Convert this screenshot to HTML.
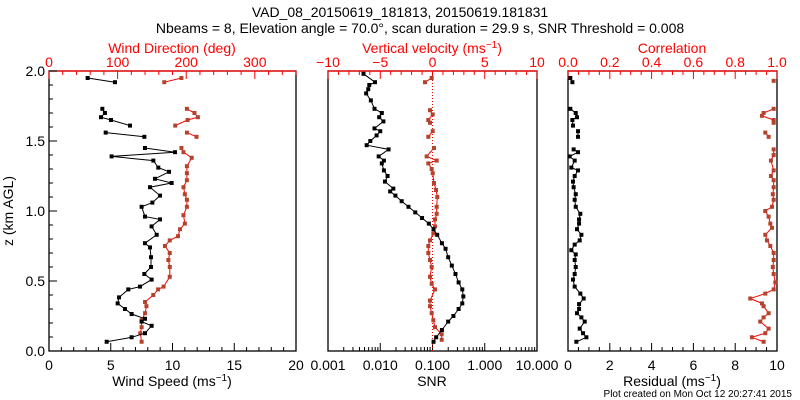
<!DOCTYPE html>
<html><head><meta charset="utf-8">
<style>
html,body{margin:0;padding:0;background:#fff;}
svg{display:block;font-family:"Liberation Sans",sans-serif;}
</style></head>
<body>
<svg id="chart" width="800" height="400" viewBox="0 0 800 400" xmlns="http://www.w3.org/2000/svg">
<rect x="0" y="0" width="800" height="400" fill="#fff"/>
<text x="400" y="17" text-anchor="middle" font-size="14">VAD_08_20150619_181813, 20150619.181831</text>
<text x="420" y="33" text-anchor="middle" font-size="14">Nbeams = 8, Elevation angle = 70.0°, scan duration = 29.9 s, SNR Threshold = 0.008</text>
<text x="172" y="53" text-anchor="middle" font-size="14" fill="#f00">Wind Direction (deg)</text>
<text x="432" y="53" text-anchor="middle" font-size="14" fill="#f00">Vertical velocity (ms<tspan dy="-5" font-size="10">−1</tspan><tspan dy="5">)</tspan></text>
<text x="672" y="53" text-anchor="middle" font-size="14" fill="#f00">Correlation</text>
<text x="172" y="386" text-anchor="middle" font-size="14">Wind Speed (ms<tspan dy="-5" font-size="10">−1</tspan><tspan dy="5">)</tspan></text>
<text x="432" y="386" text-anchor="middle" font-size="14">SNR</text>
<text x="672" y="386" text-anchor="middle" font-size="14">Residual (ms<tspan dy="-5" font-size="10">−1</tspan><tspan dy="5">)</tspan></text>
<text x="792" y="397" text-anchor="end" font-size="10">Plot created on Mon Oct 12 20:27:41 2015</text>
<text transform="translate(13,211) rotate(-90)" text-anchor="middle" font-size="14">z (km AGL)</text>
</svg>
<script>
// ---- data ----
const yTicks = [0, 0.5, 1.0, 1.5, 2.0];
const yTickLabels = ["0.0", "0.5", "1.0", "1.5", "2.0"];
const speedTicks = [0, 5, 10, 15, 20];
const dirTicks = [0, 100, 200, 300];
const snrTicks = [0.001, 0.01, 0.1, 1, 10];
const snrTickLabels = ["0.001", "0.010", "0.100", "1.000", "10.000"];
const wTicks = [-10, -5, 0, 5, 10];
const resTicks = [0, 2, 4, 6, 8, 10];
const corrTicks = [0, 0.2, 0.4, 0.6, 0.8, 1.0];
const corrTickLabels = ["0.0", "0.2", "0.4", "0.6", "0.8", "1.0"];

const speedZ = [0.066,0.098,0.127,0.18,0.21,0.23,0.264,0.30,0.34,0.383,0.44,0.46,0.51,0.55,0.60,0.67,0.74,0.77,0.83,0.89,0.94,0.96,1.03,1.06,1.11,1.17,1.20,1.23,1.28,1.31,1.36,1.39,1.42,1.45,null,1.53,1.56,null,1.61,1.65,1.67,1.70,1.73,null,1.92,1.95];
const speedVals = [4.67,6.69,7.77,8.31,7.50,7.77,6.69,6.15,5.56,5.67,6.42,7.37,8.31,7.72,8.26,8.26,8.18,7.77,8.72,8.31,8.99,7.77,7.50,8.37,8.99,8.18,9.93,8.58,9.72,8.85,8.45,5.07,10.2,7.77,null,7.72,4.59,null,6.56,5.02,4.21,4.53,4.32,null,5.34,3.13];

const dirZ = [0.066,0.127,0.17,0.22,0.27,0.32,0.35,0.40,0.44,0.46,0.53,0.60,0.65,0.70,0.75,0.79,0.82,0.87,0.91,0.97,1.03,1.08,1.12,1.17,1.22,1.27,1.32,1.38,1.42,1.45,null,1.53,1.56,null,1.61,1.65,1.67,1.70,1.73,null,1.92,1.95];
const dirVals = [135,133,135,135,140,142,140,152,159,167,176,176,174,176,169,176,188,191,198,196,201,201,198,196,201,201,201,208,196,193,null,215,201,null,184,202,217,212,201,null,168,193];

const snrZ = [0.066,0.098,0.15,0.21,0.25,0.30,0.34,0.39,0.44,0.49,0.55,0.61,0.67,0.73,0.77,0.83,0.87,0.91,0.95,0.99,1.03,1.07,1.11,1.14,1.16,1.21,1.25,1.29,1.34,1.36,1.39,1.44,1.47,1.50,1.54,1.57,1.59,1.64,1.67,1.70,1.73,1.79,1.84,1.87,1.90,1.92,1.98];
const snrLog = [-0.98,-0.93,-0.82,-0.70,-0.60,-0.50,-0.43,-0.41,-0.43,-0.50,-0.56,-0.63,-0.70,-0.75,-0.82,-0.91,-0.98,-1.07,-1.20,-1.33,-1.46,-1.59,-1.71,-1.81,-1.75,-1.91,-1.86,-1.93,-1.97,-1.93,-2.03,-1.84,-2.26,-2.19,-2.07,-2.00,-2.11,-1.94,-2.02,-1.97,-2.11,-2.18,-2.27,-2.23,-2.21,-2.10,-2.32];

const wZ = [0.08,0.12,0.17,0.22,0.27,0.32,0.36,0.44,0.48,0.53,0.60,0.65,0.70,0.75,0.79,0.84,0.89,0.94,0.98,1.03,1.10,1.15,1.20,1.27,1.30,1.34,1.36,1.39,1.45,null,1.53,1.57,null,1.63,1.65,1.69,1.72,null,1.92,1.95];
const wVals = [0.88,0.88,0.24,0.08,-0.08,-0.24,-0.24,0.24,-0.08,-0.24,-0.08,-0.24,-0.40,-0.40,-0.24,0.08,0.24,0.24,0.40,0.40,0.46,0.34,0.14,0.02,-0.08,-0.40,0.40,-0.56,0.14,null,-0.40,0.02,null,-0.24,-0.40,0.02,-0.24,null,-0.72,-0.08];

const resZ = [0.066,0.098,0.127,0.16,0.21,0.24,0.27,0.30,0.335,0.375,0.41,0.46,0.51,0.55,0.60,0.65,0.69,0.72,0.76,0.79,0.83,0.87,0.91,0.94,0.98,1.03,1.08,1.12,1.17,1.21,1.25,1.29,1.31,1.36,1.39,1.42,1.44,null,1.53,1.57,null,1.61,1.65,1.67,1.70,1.73,null,1.92,1.95];
const resVals = [0.40,0.88,0.72,0.56,0.80,0.64,0.43,0.53,0.53,0.75,0.59,0.32,0.24,0.32,0.37,0.32,0.37,0.16,0.32,0.56,0.64,0.43,0.53,0.53,0.59,0.37,0.32,0.37,0.27,0.24,0.32,0.48,0.16,0.32,0.08,0.48,0.27,null,0.48,0.48,null,0.24,0.21,0.43,0.37,0.11,null,0.21,0.11];

const corrZ = [0.066,0.098,0.127,0.16,0.21,0.24,0.27,0.32,0.34,0.375,0.41,0.44,0.49,0.55,0.60,0.65,0.70,0.75,0.79,0.83,0.88,0.91,0.96,1.0,1.03,1.08,1.12,1.17,1.22,1.25,1.29,1.36,1.40,1.44,null,1.53,1.56,null,1.63,1.65,1.68,1.70,1.73,null,1.93];
const corrVals = [0.936,0.88,0.944,0.96,0.92,0.936,0.96,0.936,0.928,0.872,0.944,0.984,0.992,0.984,0.98,0.984,0.984,0.968,0.952,0.944,0.976,0.968,0.96,0.944,0.976,0.984,0.98,0.984,0.984,0.971,0.984,0.971,0.984,0.984,null,0.96,0.944,null,0.984,0.984,0.928,0.936,0.984,null,0.984];

// ---- layout ----
const NS = "http://www.w3.org/2000/svg";
const svg = document.getElementById("chart");
const Y0 = 351, Y1 = 71;
function yS(z){ return Y0 - (z/2.0)*(Y0-Y1); }
const P1 = {l:49, r:296}, P2 = {l:328, r:537}, P3 = {l:568, r:777};
function lin(p, a, b){ return v => p.l + (v-a)/(b-a)*(p.r-p.l); }
const xSpeed = lin(P1,0,20), xDir = lin(P1,0,360);
const xLogSnr = lin(P2,-3,1), xW = lin(P2,-10,10);
const xRes = lin(P3,0,10), xCorr = lin(P3,0,1);
const RED = "#f00", MRED = "#b5422c";

function mk(tag, attrs){
  const e = document.createElementNS(NS, tag);
  for (const k in attrs) e.setAttribute(k, attrs[k]);
  svg.appendChild(e);
  return e;
}

function drawPanel(p, key){
  const f = mk("rect", {x:p.l, y:Y1, width:p.r-p.l, height:Y0-Y1, fill:"none", stroke:"#000", "stroke-width":1.3});
  
  
  const t = mk("line", {x1:p.l, y1:Y1, x2:p.r, y2:Y1, stroke:RED, "stroke-width":1.3});
  
  
}
drawPanel(P1, "wind-panel");
drawPanel(P2, "snr-panel");
drawPanel(P3, "residual-panel");

function tick(x, y, len, color, name){
  const l = mk("line", {x1:x, y1:y, x2:x, y2:y+len, stroke:color, "stroke-width":1});
  
  
}
function label(x, y, txt, color, anchor, name){
  const t = mk("text", {x:x, y:y, "text-anchor":anchor, "font-size":14, fill:color});
  t.textContent = txt;
  
  
}

// y axis
for (let z = 0; z <= 2.0001; z += 0.1) {
  const y = yS(z);
  const major = Math.abs(z*2 - Math.round(z*2)) < 1e-6;
  const l = mk("line", {x1:P1.l, y1:y, x2:P1.l+(major?8:4), y2:y, stroke:"#000"});
  
  
}
yTicks.forEach((v,i)=>label(P1.l-4, yS(v)+5, yTickLabels[i], "#000", "end", "y-tick-label"));

// panel 1 axes
for (let v = 0; v <= 20; v += 1) tick(xSpeed(v), Y0, v%5===0?-8:-4, "#000", "speed-tick");
speedTicks.forEach(v=>label(xSpeed(v), 370, String(v), "#000", "middle", "speed-tick-label"));
for (let v = 0; v <= 360; v += 20) tick(xDir(v), Y1, v%100===0?8:4, RED, "direction-tick");
dirTicks.forEach(v=>label(xDir(v), 67, String(v), RED, "middle", "direction-tick-label"));

// panel 2 axes
for (let d = -3; d < 1; d++) for (let m = 1; m <= 9; m++) {
  const lv = d + Math.log10(m);
  tick(xLogSnr(lv), Y0, m===1?-8:-4, "#000", "snr-tick");
}
tick(xLogSnr(1), Y0, -8, "#000", "snr-tick");
snrTicks.forEach((v,i)=>label(xLogSnr(Math.log10(v)), 370, snrTickLabels[i], "#000", "middle", "snr-tick-label"));
for (let v = -10; v <= 10; v += 1) tick(xW(v), Y1, v%5===0?8:4, RED, "velocity-tick");
wTicks.forEach(v=>label(xW(v), 67, v<0?"−"+Math.abs(v):String(v), RED, "middle", "velocity-tick-label"));
const zl = mk("line", {x1:xW(0), y1:Y1, x2:xW(0), y2:Y0, stroke:RED, "stroke-width":1, "stroke-dasharray":"1,2"});



// panel 3 axes
for (let v = 0; v <= 10.001; v += 0.5) tick(xRes(v), Y0, Math.abs(v/2-Math.round(v/2))<1e-6?-8:-4, "#000", "residual-tick");
resTicks.forEach(v=>label(xRes(v), 370, String(v), "#000", "middle", "residual-tick-label"));
for (let v = 0; v <= 1.0001; v += 0.05) tick(xCorr(v), Y1, Math.abs(v*5-Math.round(v*5))<1e-6?8:4, RED, "correlation-tick");
corrTicks.forEach((v,i)=>label(xCorr(v), 67, corrTickLabels[i], RED, "middle", "correlation-tick-label"));

// series
function series(zs, vals, xf, lineColor, markColor, name){
  let d = "", pen = false;
  const pts = [];
  for (let i = 0; i < zs.length; i++) {
    if (zs[i] === null || vals[i] === null) { pen = false; continue; }
    const x = xf(vals[i]), y = yS(zs[i]);
    d += (pen ? "L" : "M") + x.toFixed(1) + "," + y.toFixed(1);
    pen = true;
    pts.push([x,y]);
  }
  const p = mk("path", {d:d, fill:"none", stroke:lineColor, "stroke-width":1});
  
  
  pts.forEach(([x,y])=>{
    const r = mk("rect", {x:x-2, y:y-2, width:4, height:4, fill:markColor});
    
    
  });
}
series(dirZ, dirVals, xDir, RED, MRED, "wind-direction");
series(speedZ, speedVals, xSpeed, "#000", "#000", "wind-speed");
series(wZ, wVals, xW, RED, MRED, "vertical-velocity");
series(snrZ, snrLog, xLogSnr, "#000", "#000", "snr");
series(corrZ, corrVals, xCorr, RED, MRED, "correlation");
series(resZ, resVals, xRes, "#000", "#000", "residual");
</script>
</body></html>
